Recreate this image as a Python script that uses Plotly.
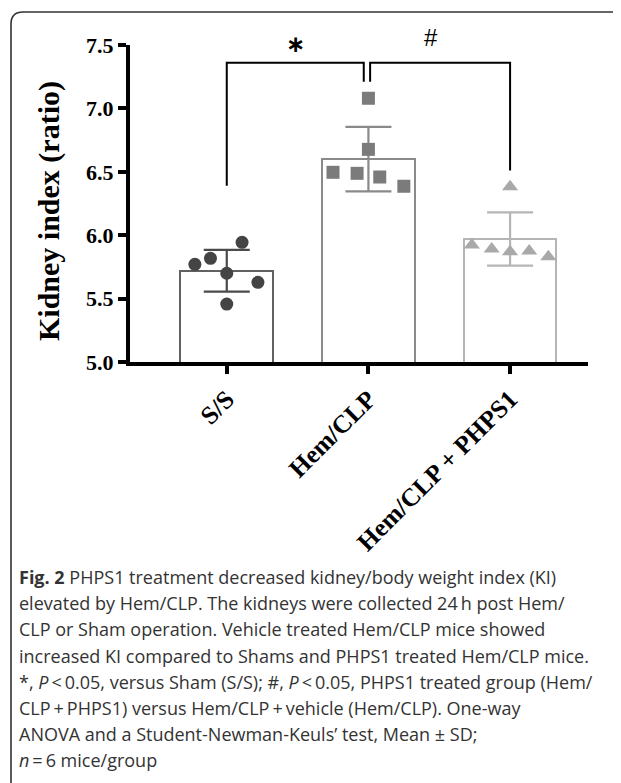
import plotly.graph_objects as go

# ---- data ----
categories = ["S/S", "Hem/CLP", "Hem/CLP + PHPS1"]
means = [5.72, 6.60, 5.97]
sds = [0.165, 0.255, 0.21]
ss_points = [5.944, 5.818, 5.770, 5.700, 5.628, 5.457]
hem_points = [7.08, 6.677, 6.496, 6.488, 6.459, 6.386]
phps_points = [6.383, 5.923, 5.891, 5.870, 5.875, 5.830]
y_ticks = [5.0, 5.5, 6.0, 6.5, 7.0, 7.5]

# jitter offsets (horizontal scatter of points within bar)
ss_jit = [0.108, -0.115, -0.225, 0.0, 0.22, 0.0]
hem_jit = [0.0, 0.0, -0.25, -0.08, 0.08, 0.25]
phps_jit = [0.0, -0.27, -0.13, 0.0, 0.135, 0.27]

caption_lines = [
    "<b>Fig. 2</b> PHPS1 treatment decreased kidney/body weight index (KI)",
    "elevated by Hem/CLP. The kidneys were collected 24\u2009h post Hem/",
    "CLP or Sham operation. Vehicle treated Hem/CLP mice showed",
    "increased KI compared to Shams and PHPS1 treated Hem/CLP mice.",
    "*, <i>P</i>\u2009<\u20090.05, versus Sham (S/S); #, <i>P</i>\u2009<\u20090.05, PHPS1 treated group (Hem/",
    "CLP\u2009+\u2009PHPS1) versus Hem/CLP\u2009+\u2009vehicle (Hem/CLP). One-way",
    "ANOVA and a Student-Newman-Keuls\u2019 test, Mean \u00b1 SD;",
    "<i>n</i>\u2009=\u20096 mice/group",
]

outline_cols = ["#616161", "#8a8a8a", "#b5b5b5"]
point_cols = ["#444444", "#7b7b7b", "#a9a9a9"]
symbols = ["circle", "square", "triangle-up"]

# page geometry (page body has an 8px margin)
OFF = 8
W, H = 621 - OFF, 783 - OFF
# plot area in page pixels
PX0, PX1, PY0, PY1 = 130, 588, 45, 362
L, R, T, B = PX0 - OFF, W - (PX1 - OFF), PY0 - OFF, H - (PY1 - OFF)
pw = PX1 - PX0
ph = PY1 - PY0

def px2paper(x, y):
    return (x - PX0) / pw, (PY1 - y) / ph

fig = go.Figure()
xpos = list(range(len(categories)))
for i in xpos:
    fig.add_trace(go.Bar(
        x=[i], y=[means[i]], width=0.655,
        marker=dict(color="white", line=dict(color=outline_cols[i], width=2)),
        error_y=dict(type="data", array=[sds[i]], color=outline_cols[i] if i else "#4a4a4a",
                     thickness=2.2, width=23),
        showlegend=False, hoverinfo="skip"))

for i, (pts, jit) in enumerate([(ss_points, ss_jit), (hem_points, hem_jit), (phps_points, phps_jit)]):
    fig.add_trace(go.Scatter(
        x=[i + j for j in jit], y=pts, mode="markers",
        marker=dict(symbol=symbols[i], size=13 if i != 2 else 14, color=point_cols[i]),
        showlegend=False))

# significance brackets
def bracket(x0, x1, ytop, y0b, y1b):
    fig.add_shape(type="path",
                  path=f"M {x0},{y0b} L {x0},{ytop} L {x1},{ytop} L {x1},{y1b}",
                  xref="x", yref="y", line=dict(color="black", width=2))

bracket(0, 0.967, 7.36, 6.39, 7.21)
bracket(1.012, 2, 7.36, 7.21, 6.51)
sx, sy = px2paper(295, 44)
fig.add_annotation(x=sx, y=sy, xref="paper", yref="paper", text="<b>\u2217</b>", showarrow=False,
                   yanchor="middle",
                   font=dict(family="DejaVu Sans", size=23, color="black"))
hx, hy = px2paper(440, 38)
fig.add_annotation(x=hx, y=hy, xref="paper", yref="paper", text="#", showarrow=False,
                   yanchor="middle",
                   font=dict(family="Liberation Sans", size=24, color="black"))

# y-axis title
tx, _ = px2paper(49, 0)
_, ty = px2paper(0, 211)
fig.add_annotation(x=tx, y=ty, xref="paper", yref="paper", text="Kidney index (ratio)",
                   textangle=-90, showarrow=False, xanchor="center", yanchor="middle",
                   font=dict(family="Liberation Serif", size=30, color="black", weight="bold"))

# caption
cap_y0 = 577
cap_dy = 26.2
for k, line in enumerate(caption_lines):
    cx, cy = px2paper(17, cap_y0 + k * cap_dy)
    fig.add_annotation(x=cx, y=cy, xref="paper", yref="paper", text=line, showarrow=False,
                       xanchor="left", yanchor="middle",
                       font=dict(family="Open Sans", size=18, color="#333333"))

# rounded frame
x0p, y0p = px2paper(11, 12)
x1p, _ = px2paper(640, 12)
_, ybp = px2paper(11, 800)
_, yc1 = px2paper(11, 24)
xc1, _ = px2paper(23, 12)
fig.add_shape(type="path", xref="paper", yref="paper",
              path=f"M {x1p},{y0p} L {xc1},{y0p} Q {x0p},{y0p} {x0p},{yc1} L {x0p},{ybp}",
              line=dict(color="#333333", width=1.6))

fig.update_layout(
    width=W, height=H, margin=dict(l=L, r=R, t=T, b=B, pad=0),
    plot_bgcolor="white", paper_bgcolor="white", bargap=0,
    xaxis=dict(range=[-0.683, 2.55], tickvals=xpos, ticktext=categories, tickangle=-45,
               showline=True, linewidth=4, linecolor="black", ticks="outside", ticklen=8,
               tickwidth=4, tickcolor="black", showgrid=False, zeroline=False,
               tickfont=dict(family="Liberation Serif", size=25.5, color="black", weight="bold")),
    yaxis=dict(range=[5.0, 7.5], tickvals=y_ticks, tickformat=".1f",
               showline=True, linewidth=4, linecolor="black", ticks="outside", ticklen=8,
               tickwidth=4, tickcolor="black", showgrid=False, zeroline=False,
               tickfont=dict(family="Liberation Serif", size=22, color="black", weight="bold")),
)
fig.write_html("out.html")
